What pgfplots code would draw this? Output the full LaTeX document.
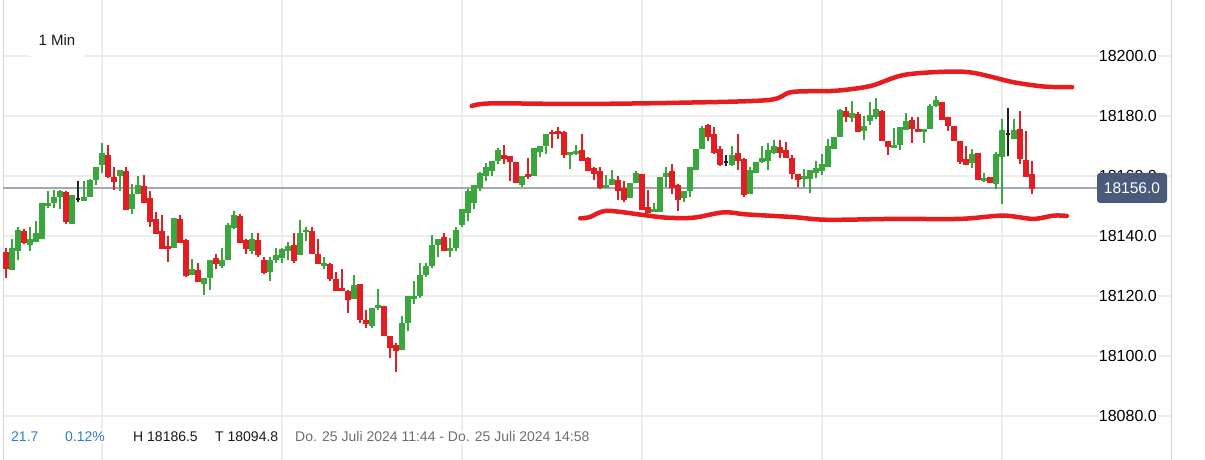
\documentclass[border=0pt]{standalone}
\usepackage{fontspec}
\setmainfont{Liberation Sans}
\usepackage{pgfplots}
\pgfplotsset{compat=1.18}
\usepackage{pgfplotstable}

\definecolor{cgreen}{RGB}{58,166,62}
\definecolor{cred}{RGB}{226,30,36}
\definecolor{cdoji}{RGB}{34,34,34}
\definecolor{handred}{RGB}{230,28,30}
\definecolor{gridgray}{RGB}{236,236,236}
\definecolor{bordergray}{RGB}{212,212,212}
\definecolor{pricegray}{RGB}{160,168,182}
\definecolor{boxblue}{RGB}{74,90,122}
\definecolor{infoblue}{RGB}{47,125,205}
\definecolor{infogray}{RGB}{110,110,110}

% rising candles: index open high low close
\pgfplotstableread{
x o h l c
2 18128.8 18139.0 18128.8 18136.0
3 18135.1 18143.0 18132.0 18142.0
5 18137.0 18143.0 18135.0 18139.0
6 18138.1 18145.0 18138.1 18141.0
7 18139.1 18151.0 18139.1 18151.0
8 18150.0 18155.0 18149.3 18151.0
9 18151.0 18155.3 18149.3 18153.0
10 18153.0 18155.3 18149.0 18155.0
12 18144.0 18153.7 18144.0 18153.7
14 18151.7 18158.3 18151.7 18153.0
15 18153.0 18159.0 18153.0 18158.7
16 18158.7 18163.0 18157.0 18163.0
17 18163.7 18171.0 18161.0 18167.7
20 18160.0 18162.0 18155.0 18162.0
22 18149.0 18157.3 18147.3 18154.0
23 18154.0 18160.0 18154.0 18157.0
29 18136.0 18146.0 18136.0 18146.0
32 18127.0 18132.3 18127.0 18129.0
34 18124.0 18126.0 18120.3 18126.0
35 18126.0 18132.0 18122.0 18132.0
37 18130.0 18136.0 18129.3 18132.0
38 18132.0 18144.3 18132.0 18143.7
39 18142.7 18148.3 18142.3 18147.0
42 18135.0 18141.0 18134.0 18139.0
45 18128.0 18133.0 18125.0 18132.0
46 18132.0 18136.0 18131.0 18133.7
47 18132.7 18136.0 18131.0 18135.7
48 18135.0 18138.0 18132.0 18136.7
50 18133.7 18145.3 18133.7 18141.0
51 18141.3 18143.0 18138.3 18142.0
54 18130.0 18133.0 18129.0 18131.0
59 18119.0 18127.0 18119.0 18123.7
62 18110.0 18116.0 18109.3 18116.0
63 18116.0 18122.3 18115.3 18117.0
67 18102.0 18113.3 18102.0 18111.0
68 18111.0 18120.0 18108.3 18120.0
69 18119.0 18125.0 18117.3 18120.0
70 18120.0 18131.0 18119.3 18127.0
71 18127.0 18131.0 18126.3 18130.0
72 18130.0 18140.3 18129.3 18137.0
73 18137.0 18139.0 18133.0 18139.0
75 18135.0 18139.3 18133.0 18136.0
76 18136.0 18143.0 18135.0 18142.0
77 18143.7 18149.0 18143.0 18149.0
78 18147.7 18155.5 18145.0 18155.0
79 18151.0 18157.0 18149.0 18157.0
80 18156.0 18161.3 18155.0 18161.0
81 18160.0 18164.3 18158.3 18163.0
82 18161.7 18165.0 18160.0 18165.0
83 18165.0 18169.3 18164.0 18168.7
87 18157.0 18160.0 18156.3 18160.0
89 18160.0 18169.3 18160.0 18169.3
90 18168.0 18170.0 18166.3 18170.0
91 18170.0 18174.0 18167.3 18174.0
95 18167.0 18168.0 18162.3 18168.0
96 18167.3 18170.3 18167.0 18168.3
101 18156.0 18160.3 18156.0 18157.0
102 18157.0 18162.0 18157.0 18159.0
105 18152.7 18157.7 18152.7 18157.7
106 18157.7 18161.7 18157.7 18161.0
109 18148.0 18151.0 18148.0 18149.0
110 18148.0 18159.7 18148.0 18159.7
111 18159.7 18163.0 18156.3 18161.0
114 18152.7 18155.0 18151.3 18155.0
115 18155.0 18163.0 18153.0 18163.0
116 18162.0 18169.0 18162.0 18169.0
117 18169.0 18176.7 18169.0 18176.0
122 18163.7 18170.0 18163.3 18167.0
125 18154.0 18163.0 18154.0 18162.0
126 18161.0 18164.7 18161.0 18164.7
127 18164.7 18170.0 18164.3 18166.0
128 18165.0 18171.0 18162.0 18168.7
129 18167.7 18172.0 18167.3 18170.0
134 18159.0 18162.3 18156.3 18160.0
135 18159.0 18162.0 18154.3 18162.0
136 18161.0 18165.0 18159.3 18162.7
137 18161.7 18167.3 18160.3 18164.0
138 18163.0 18172.3 18163.0 18170.0
139 18169.0 18173.0 18169.0 18173.0
140 18173.0 18182.3 18173.0 18182.0
142 18179.3 18185.0 18178.0 18181.0
144 18175.0 18180.0 18172.0 18176.7
145 18178.3 18184.7 18177.0 18180.3
146 18179.7 18186.0 18179.0 18182.3
149 18169.3 18176.0 18169.3 18170.3
150 18170.3 18176.3 18168.7 18176.3
151 18175.3 18181.0 18175.3 18178.3
154 18174.7 18175.7 18171.0 18175.7
155 18175.7 18184.0 18175.7 18183.3
156 18183.3 18186.5 18183.0 18185.3
162 18164.3 18169.0 18162.7 18167.3
164 18158.3 18161.0 18158.0 18159.3
166 18157.3 18168.0 18155.7 18167.3
167 18166.3 18179.0 18150.7 18175.3
169 18172.3 18179.0 18172.3 18175.3
}\upcandles

% falling candles
\pgfplotstableread{
x o h l c
1 18134.7 18136.0 18126.1 18129.1
4 18141.7 18142.3 18137.3 18137.7
11 18154.7 18155.0 18144.0 18144.7
18 18167.0 18170.3 18159.3 18159.7
19 18159.7 18163.0 18155.3 18158.0
21 18161.7 18163.0 18148.7 18148.7
24 18156.7 18160.3 18151.0 18151.0
25 18152.7 18155.0 18143.0 18144.7
26 18145.7 18148.0 18140.7 18140.7
27 18141.7 18147.0 18135.7 18135.7
28 18136.7 18140.0 18131.3 18135.7
30 18145.7 18147.0 18137.7 18137.7
31 18138.7 18139.0 18126.3 18126.7
33 18128.7 18131.0 18124.7 18124.7
36 18132.7 18134.0 18129.0 18130.7
40 18146.7 18147.3 18137.8 18137.8
41 18138.7 18139.0 18134.0 18135.7
43 18138.7 18141.0 18133.0 18133.7
44 18132.0 18133.0 18127.3 18127.7
49 18137.0 18141.0 18131.0 18131.7
52 18141.7 18143.0 18134.0 18134.0
53 18134.0 18139.0 18130.7 18130.7
55 18130.7 18131.0 18125.0 18125.7
56 18125.7 18128.0 18121.7 18121.7
57 18122.7 18129.0 18121.7 18121.7
58 18121.7 18122.0 18114.3 18118.7
60 18124.0 18124.0 18111.0 18112.0
61 18112.0 18115.3 18109.3 18110.7
64 18116.7 18116.7 18106.7 18106.7
65 18106.7 18106.7 18099.3 18102.7
66 18103.7 18104.3 18094.8 18101.7
74 18139.7 18141.0 18135.0 18135.0
84 18167.0 18170.3 18164.0 18165.7
85 18166.7 18166.7 18158.3 18164.7
86 18164.7 18164.7 18157.7 18157.7
88 18160.7 18166.0 18159.0 18159.7
92 18174.7 18175.3 18169.3 18174.0
93 18175.0 18176.3 18172.3 18174.0
94 18174.7 18175.0 18166.0 18167.0
97 18168.7 18174.0 18165.0 18165.0
98 18166.0 18166.3 18161.7 18161.7
99 18162.7 18163.0 18158.7 18160.7
100 18161.7 18163.0 18155.7 18156.0
103 18158.7 18160.0 18152.0 18155.0
104 18156.0 18158.3 18151.3 18152.0
107 18160.7 18160.7 18148.7 18148.7
108 18149.7 18155.3 18147.7 18147.7
112 18161.7 18164.0 18154.0 18156.0
113 18157.0 18157.3 18148.3 18152.0
118 18177.0 18177.3 18171.7 18173.0
119 18174.0 18176.3 18167.3 18167.7
120 18169.0 18170.0 18163.3 18163.7
123 18167.7 18174.0 18162.0 18165.0
124 18165.7 18166.0 18153.0 18153.7
130 18169.7 18172.0 18166.0 18167.7
131 18168.7 18171.3 18166.0 18166.0
132 18166.0 18167.0 18159.0 18160.7
133 18160.7 18160.7 18156.3 18158.7
141 18181.7 18183.0 18178.0 18179.7
143 18180.7 18181.3 18174.7 18174.7
147 18181.7 18182.0 18171.7 18171.7
148 18171.7 18171.7 18167.0 18169.7
152 18178.7 18179.7 18171.0 18175.7
153 18175.7 18179.7 18174.7 18174.7
157 18184.7 18184.7 18178.7 18178.7
158 18179.7 18179.7 18175.0 18176.7
159 18176.7 18176.7 18171.7 18171.7
160 18171.7 18171.7 18164.0 18164.7
161 18165.7 18170.0 18163.7 18163.7
163 18167.7 18167.7 18158.7 18158.7
165 18159.7 18159.7 18157.7 18157.7
170 18175.7 18181.7 18164.0 18165.7
171 18165.3 18175.0 18159.7 18159.7
172 18160.7 18165.0 18154.0 18155.7
}\downcandles

% unchanged (doji) candles
\pgfplotstableread{
x o h l c
13 18152.3 18158.3 18151.3 18152.3
121 18164.7 18167.0 18163.3 18164.7
168 18174.1 18182.7 18166.7 18174.1
}\dojicandles

\pgfplotsset{
  wick/.style={draw=none, mark=none, forget plot,
    error bars/.cd, y dir=plus, y explicit, error mark=none,
    error bar style={draw=#1, solid, line width=2bp}},
  body/.style={draw=none, mark=none, forget plot,
    error bars/.cd, y dir=plus, y explicit, error mark=none,
    error bar style={draw=#1, solid, line width=5.6bp}},
}

\begin{document}
\begin{tikzpicture}[x=1bp, y=1bp]
\useasboundingbox (0,0) rectangle (1205,460);
\begin{axis}[
  at={(3bp,0bp)}, anchor=south west,
  scale only axis, width=1169bp, height=460bp,
  xmin=0.5, xmax=195.333,
  ymin=18065.333, ymax=18218.667,
  axis line style={draw=none},
  xtick={17,47,77,107,137,167}, xticklabels={},
  ytick={18080,18100,...,18200},
  scaled y ticks=false,
  grid=major,
  major grid style={draw=gridgray, line width=1.6bp},
  major tick length=0pt,
  yticklabel pos=right,
  yticklabel style={anchor=east, xshift=-14bp, fill=white,
    inner xsep=1bp, inner ysep=0bp, text=black,
    font=\fontsize{16bp}{18bp}\selectfont},
  /pgf/number format/fixed,
  /pgf/number format/fixed zerofill,
  /pgf/number format/precision=1,
  /pgf/number format/1000 sep={},
  /pgf/number format/assume math mode=true,
]
\draw[bordergray, line width=1.2bp] (rel axis cs:0,0) -- (rel axis cs:0,1);
\draw[bordergray, line width=1.2bp] (rel axis cs:1,0) -- (rel axis cs:1,1);

% last price line
\addplot[pricegray, line width=1.6bp, forget plot] coordinates {(0.5,18156) (182.8,18156)};

% wicks
\addplot[wick=cgreen] table[x=x, y=l, y error plus expr={\thisrow{h}-\thisrow{l}}] {\upcandles};
\addplot[wick=cred] table[x=x, y=l, y error plus expr={\thisrow{h}-\thisrow{l}}] {\downcandles};
\addplot[wick=cdoji] table[x=x, y=l, y error plus expr={\thisrow{h}-\thisrow{l}}] {\dojicandles};
% bodies
\addplot[body=cgreen] table[x=x, y=o, y error plus expr={\thisrow{c}-\thisrow{o}}] {\upcandles};
\addplot[body=cred] table[x=x, y=c, y error plus expr={\thisrow{o}-\thisrow{c}}] {\downcandles};
\addplot[only marks, mark=-, mark size=2.2bp, mark options={draw=cdoji, line width=2bp}, forget plot]
  table[x=x, y=o] {\dojicandles};

% hand-drawn range lines
\addplot[handred, line width=4.5bp, smooth, tension=0.5, line cap=round] coordinates {
  (78.6,18183.3) (81.9,18184.2) (96.4,18184.0) (112.9,18184.4) (128.0,18185.3)
  (132.0,18188.0) (139.2,18188.4) (145.1,18190.0) (151.0,18193.8) (160.9,18194.7)
  (168.8,18191.3) (174.1,18189.8) (178.7,18189.6)};
\addplot[handred, line width=4.5bp, smooth, tension=0.5, line cap=round] coordinates {
  (96.7,18145.9) (98.3,18146.3) (101.1,18148.4) (107.2,18147.0) (111.1,18146.1)
  (115.6,18146.1) (120.6,18147.9) (124.4,18147.2) (132.2,18146.3) (137.8,18145.4)
  (148.9,18145.7) (160,18145.7) (167.2,18146.8) (172.2,18145.7) (175.6,18146.8)
  (177.8,18146.7)};

\coordinate (lastprice) at (axis cs:188.67,18156);
\end{axis}

\node[fill=boxblue, rounded corners=3bp, text=white, minimum width=70bp,
  minimum height=30bp, inner sep=0pt, font=\fontsize{15.5bp}{17bp}\selectfont]
  at (lastprice) {18156.0};

\node[fill=white, rounded corners=4bp, minimum width=58bp, minimum height=34bp,
  inner sep=0pt, font=\fontsize{15bp}{17bp}\selectfont, text=black!90]
  at (57,420) {1 Min};

\begin{scope}[every node/.style={anchor=west, fill=white, inner xsep=1bp, inner ysep=1bp,
    font=\fontsize{14bp}{16bp}\selectfont}]
  \node[text=infoblue] at (10,23) {21.7};
  \node[text=infoblue] at (64,23) {0.12\%};
  \node[text=black!90] at (132,23) {H 18186.5};
  \node[text=black!90] at (214,23) {T 18094.8};
  \node[text=infogray] at (294,23) {Do. 25 Juli 2024 11:44 - Do. 25 Juli 2024 14:58};
\end{scope}
\end{tikzpicture}
\end{document}
